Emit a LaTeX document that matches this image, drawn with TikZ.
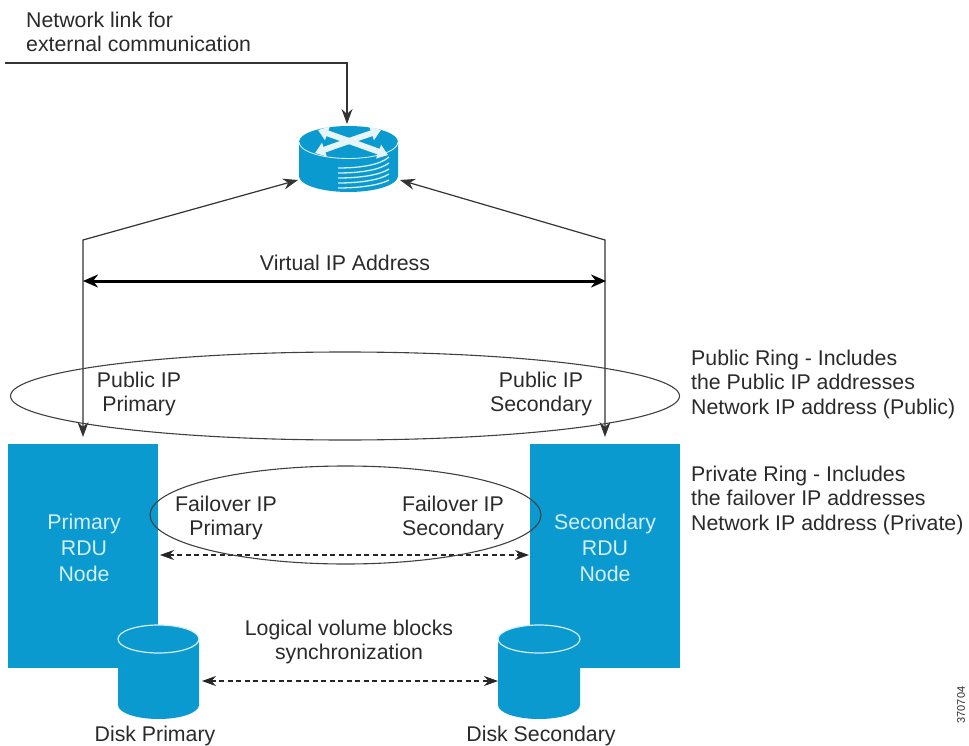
\documentclass[tikz,border=0pt]{standalone}
\usepackage{fontspec}
\setmainfont{Liberation Sans}
\usetikzlibrary{arrows.meta,shapes.geometric}
\definecolor{ciscoblue}{HTML}{0A9AD0}
\definecolor{paleblue}{HTML}{D5EEF8}
\definecolor{inktext}{HTML}{2A2A2A}
\tikzset{
  lbl/.style={text=inktext,font=\fontsize{21.3}{24.5}\selectfont,align=center,inner sep=0pt},
  lbll/.style={lbl,align=left,anchor=west},
  box/.style={fill=ciscoblue,draw=none,inner sep=0pt,text=paleblue,font=\fontsize{21.3}{26}\selectfont,align=center},
  conn/.style={draw=black!80,line width=1.2pt},
  dbl/.style={draw=black,line width=3pt,{Stealth[length=15pt,width=13pt]}-{Stealth[length=15pt,width=13pt]}},
  dsh/.style={draw=black!85,line width=1.1pt,dash pattern=on 5pt off 3.5pt,{Stealth[length=14pt,width=10pt]}-{Stealth[length=14pt,width=10pt]}},
  ring/.style={draw=black!75,line width=1.1pt,fill=none,ellipse,inner sep=0pt},
  edge/.style={draw=paleblue,line width=1.2pt},
  glyph/.style={draw=white!90!ciscoblue,line width=6pt,-{Triangle[length=10pt,width=14pt]}},
}
\begin{document}
\begin{tikzpicture}[x=1pt,y=-1pt,>={Stealth[length=15pt,width=11pt]}]
\useasboundingbox (0,0) rectangle (969,746);
% nodes
\node[box,minimum width=150pt,minimum height=224pt] (prim) at (83,556) {};
\node[box,minimum width=150pt,minimum height=224pt] (sec) at (605,556) {};
\node[box,text width=110pt] at (84,548) {Primary\\RDU\\Node};
\node[box,text width=120pt] at (605,548) {Secondary\\RDU\\Node};
% disk primary
\fill[ciscoblue] (118,639) arc[start angle=180,end angle=360,x radius=40.5,y radius=14] -- (199,705) arc[start angle=0,end angle=180,x radius=40.5,y radius=14] -- cycle;
\draw[edge] (158.5,639) ellipse[x radius=40.5,y radius=14];
% disk secondary
\fill[ciscoblue] (498,639) arc[start angle=180,end angle=360,x radius=41,y radius=14] -- (580,705) arc[start angle=0,end angle=180,x radius=41,y radius=14] -- cycle;
\draw[edge] (539,639) ellipse[x radius=41,y radius=14];
% router
\fill[ciscoblue] (299,142) arc[start angle=180,end angle=360,x radius=49.5,y radius=16] -- (398,176) arc[start angle=0,end angle=180,x radius=49.5,y radius=16] -- cycle;
\draw[draw=paleblue,line width=0.9pt] (299,142) arc[start angle=180,end angle=0,x radius=49.5,y radius=16.5];
\foreach \ya/\yb in {168/157,173/163,178/169,183/174,188/180}{
  \draw[draw=paleblue,line width=1.3pt] (338,\ya) .. controls (360,\ya) and (380,{\ya-3}) .. (389,\yb);
}
\draw[glyph] (349,141) -- (318,130);
\draw[glyph] (349,141) -- (381,130);
\draw[glyph] (349,141) -- (315,153);
\draw[glyph] (349,141) -- (388,155);
% coordinates
\coordinate (ext) at (5,63);
\coordinate (extb) at (347,63);
\coordinate (rtop) at (347,124);
\coordinate (lb) at (83,240);
\coordinate (rb) at (605,240);
\coordinate (rl) at (298,180);
\coordinate (rr) at (400,180);
\coordinate (pt) at (83,437);
\coordinate (st) at (605,437);
\coordinate (vl) at (83,281);
\coordinate (vr) at (606,281);
\coordinate (fl) at (160,555);
\coordinate (fr) at (529,555);
\coordinate (da) at (202,681);
\coordinate (db) at (498,681);
% connectors
\draw[conn,->] (ext) -- (extb) -- (rtop);
\draw[conn,<->] (rl) -- (lb) -- (pt);
\draw[conn,<->] (rr) -- (rb) -- (st);
\draw[dbl] (vl) -- (vr);
\draw[dsh] (fl) -- (fr);
\draw[dsh] (da) -- (db);
% rings
\node[ring,minimum width=669pt,minimum height=88pt] (pubring) at (345,396) {};
\node[ring,minimum width=391pt,minimum height=98pt] (privring) at (345.5,515) {};
% labels
\node[lbll] at (26,32) {Network link for\\external communication};
\node[lbl] at (345,263) {Virtual IP Address};
\node[lbl] at (139,394) {Public IP\\Primary};
\node[lbl] at (541,394) {Public IP\\Secondary};
\node[lbl] at (226,518) {Failover IP\\Primary};
\node[lbl] at (453,518) {Failover IP\\Secondary};
\node[lbl] at (349,642) {Logical volume blocks\\synchronization};
\node[lbl] at (155,736) {Disk Primary};
\node[lbl] at (541,736) {Disk Secondary};
\node[lbll] at (691,384) {Public Ring - Includes\\the Public IP addresses\\Network IP address (Public)};
\node[lbll] at (691,500) {Private Ring - Includes\\the failover IP addresses\\Network IP address (Private)};
\node[lbl,font=\fontsize{11}{12}\selectfont,rotate=90] at (961,705) {370704};
\end{tikzpicture}
\end{document}
